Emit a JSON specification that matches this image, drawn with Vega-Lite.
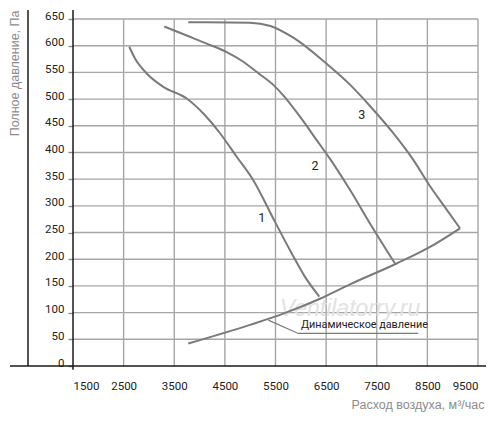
{
  "$schema": "https://vega.github.io/schema/vega-lite/v6.json",
  "width": 405,
  "height": 347,
  "autosize": "none",
  "padding": {"left": 73, "top": 19, "right": 22, "bottom": 56},
  "config": {
    "view": {"stroke": null},
    "font": "Roboto, sans-serif",
    "axis": {
      "domain": false,
      "labelFont": "Roboto, sans-serif",
      "labelFontSize": 11.5,
      "labelColor": "#222222",
      "titleFont": "Liberation Sans, sans-serif",
      "titleFontSize": 12.5,
      "titleFontWeight": "normal",
      "titleColor": "#8c8c8c"
    }
  },
  "datasets": {
    "frame": [
      {"q": 256, "q2": 9658, "p": 0, "p2": 0},
      {"q": 1500, "q2": 1500, "p": -7, "p2": 667},
      {"q": 611, "q2": 611, "p": 0, "p2": 667}
    ],
    "grid": [
      {"q": 2500, "q2": 2500, "p": 0, "p2": 650},
      {"q": 3500, "q2": 3500, "p": 0, "p2": 650},
      {"q": 4500, "q2": 4500, "p": 0, "p2": 650},
      {"q": 5500, "q2": 5500, "p": 0, "p2": 650},
      {"q": 6500, "q2": 6500, "p": 0, "p2": 650},
      {"q": 7500, "q2": 7500, "p": 0, "p2": 650},
      {"q": 8500, "q2": 8500, "p": 0, "p2": 650},
      {"q": 9500, "q2": 9500, "p": 0, "p2": 650},
      {"q": 1500, "q2": 9500, "p": 50, "p2": 50},
      {"q": 1500, "q2": 9500, "p": 100, "p2": 100},
      {"q": 1500, "q2": 9500, "p": 150, "p2": 150},
      {"q": 1500, "q2": 9500, "p": 200, "p2": 200},
      {"q": 1500, "q2": 9500, "p": 250, "p2": 250},
      {"q": 1500, "q2": 9500, "p": 300, "p2": 300},
      {"q": 1500, "q2": 9500, "p": 350, "p2": 350},
      {"q": 1500, "q2": 9500, "p": 400, "p2": 400},
      {"q": 1500, "q2": 9500, "p": 450, "p2": 450},
      {"q": 1500, "q2": 9500, "p": 500, "p2": 500},
      {"q": 1500, "q2": 9500, "p": 550, "p2": 550},
      {"q": 1500, "q2": 9500, "p": 600, "p2": 600},
      {"q": 1500, "q2": 9500, "p": 650, "p2": 650}
    ],
    "curves": [
      {"curve": "1", "q": 2612, "p": 598},
      {"curve": "1", "q": 2725, "p": 576},
      {"curve": "1", "q": 2956, "p": 548},
      {"curve": "1", "q": 3284, "p": 523},
      {"curve": "1", "q": 3746, "p": 501},
      {"curve": "1", "q": 4074, "p": 473},
      {"curve": "1", "q": 4404, "p": 436},
      {"curve": "1", "q": 4733, "p": 392},
      {"curve": "1", "q": 5061, "p": 348},
      {"curve": "1", "q": 5490, "p": 270},
      {"curve": "1", "q": 5786, "p": 217},
      {"curve": "1", "q": 6083, "p": 167},
      {"curve": "1", "q": 6365, "p": 130},
      {"curve": "2", "q": 3303, "p": 636},
      {"curve": "2", "q": 3746, "p": 619},
      {"curve": "2", "q": 4141, "p": 604},
      {"curve": "2", "q": 4536, "p": 588},
      {"curve": "2", "q": 4864, "p": 570},
      {"curve": "2", "q": 5194, "p": 546},
      {"curve": "2", "q": 5440, "p": 528},
      {"curve": "2", "q": 5654, "p": 507},
      {"curve": "2", "q": 5984, "p": 467},
      {"curve": "2", "q": 6314, "p": 423},
      {"curve": "2", "q": 6577, "p": 388},
      {"curve": "2", "q": 6971, "p": 330},
      {"curve": "2", "q": 7366, "p": 267},
      {"curve": "2", "q": 7860, "p": 192},
      {"curve": "3", "q": 3777, "p": 644},
      {"curve": "3", "q": 4996, "p": 643},
      {"curve": "3", "q": 5400, "p": 637},
      {"curve": "3", "q": 5852, "p": 615},
      {"curve": "3", "q": 6511, "p": 566},
      {"curve": "3", "q": 6971, "p": 527},
      {"curve": "3", "q": 7366, "p": 487},
      {"curve": "3", "q": 7827, "p": 436},
      {"curve": "3", "q": 8222, "p": 386},
      {"curve": "3", "q": 8530, "p": 340},
      {"curve": "3", "q": 8881, "p": 293},
      {"curve": "3", "q": 9144, "p": 258},
      {"curve": "dyn", "q": 3777, "p": 42},
      {"curve": "dyn", "q": 4996, "p": 77},
      {"curve": "dyn", "q": 5654, "p": 98},
      {"curve": "dyn", "q": 6379, "p": 126},
      {"curve": "dyn", "q": 6971, "p": 153},
      {"curve": "dyn", "q": 7894, "p": 192},
      {"curve": "dyn", "q": 8552, "p": 223},
      {"curve": "dyn", "q": 9144, "p": 258}
    ],
    "leader": [
      {"q": 5358, "p": 86},
      {"q": 5950, "p": 61},
      {"q": 8320, "p": 61}
    ],
    "labels": [
      {"q": 5227, "p": 278, "text": "1"},
      {"q": 6280, "p": 375, "text": "2"},
      {"q": 7203, "p": 471, "text": "3"}
    ],
    "note": [
      {"q": 6003, "p": 77, "text": "Динамическое давление"}
    ],
    "mark": [
      {"q": 6971, "p": 107, "text": "Ventilatorry.ru"}
    ]
  },
  "encoding": {
    "x": {
      "field": "q",
      "type": "quantitative",
      "scale": {"domain": [1500, 9500], "nice": false, "zero": false},
      "axis": {
        "values": [1500, 2500, 3500, 4500, 5500, 6500, 7500, 8500, 9500],
        "format": "d",
        "grid": false,
        "ticks": false,
        "labelPadding": 14,
        "title": "Расход воздуха, м³/час",
        "titleX": 411,
        "titleY": 38,
        "titleAlign": "right",
        "titleBaseline": "middle",
        "titleAnchor": "end"
      }
    },
    "y": {
      "field": "p",
      "type": "quantitative",
      "scale": {"domain": [0, 650], "nice": false},
      "axis": {
        "values": [0, 50, 100, 150, 200, 250, 300, 350, 400, 450, 500, 550, 600, 650],
        "format": "d",
        "grid": false,
        "ticks": true,
        "tickSize": 5,
        "tickColor": "#8a8a8a",
        "tickWidth": 1.4,
        "labelPadding": 4,
        "labelOffset": -3,
        "title": "Полное давление, Па",
        "titleAngle": -90,
        "titleX": -59,
        "titleY": -9,
        "titleAlign": "right",
        "titleBaseline": "middle",
        "titleAnchor": "end"
      }
    }
  },
  "layer": [
    {
      "data": {"name": "grid"},
      "mark": {"type": "rule", "color": "#a6a6a6", "strokeWidth": 1.4},
      "encoding": {
        "x2": {"field": "q2"},
        "y2": {"field": "p2"}
      }
    },
    {
      "data": {"name": "frame"},
      "mark": {"type": "rule", "color": "#1a1a1a", "strokeWidth": 1.5},
      "encoding": {
        "x2": {"field": "q2"},
        "y2": {"field": "p2"}
      }
    },
    {
      "data": {"name": "mark"},
      "mark": {"type": "text", "fontSize": 23, "fontStyle": "italic", "font": "Liberation Sans, sans-serif", "color": "#e2e2e2", "align": "center", "baseline": "middle"},
      "encoding": {
        "text": {"field": "text"}
      }
    },
    {
      "data": {"name": "curves"},
      "mark": {"type": "line", "interpolate": "monotone", "color": "#7a7a7a", "strokeWidth": 2},
      "encoding": {
        "detail": {"field": "curve"}
      }
    },
    {
      "data": {"name": "leader"},
      "mark": {"type": "line", "color": "#7a7a7a", "strokeWidth": 1.2},
      "encoding": {}
    },
    {
      "data": {"name": "labels"},
      "mark": {"type": "text", "fontSize": 12.5, "color": "#222222", "align": "center", "baseline": "middle"},
      "encoding": {
        "text": {"field": "text"}
      }
    },
    {
      "data": {"name": "note"},
      "mark": {"type": "text", "fontSize": 10.8, "color": "#222222", "align": "left", "baseline": "middle"},
      "encoding": {
        "text": {"field": "text"}
      }
    }
  ]
}
